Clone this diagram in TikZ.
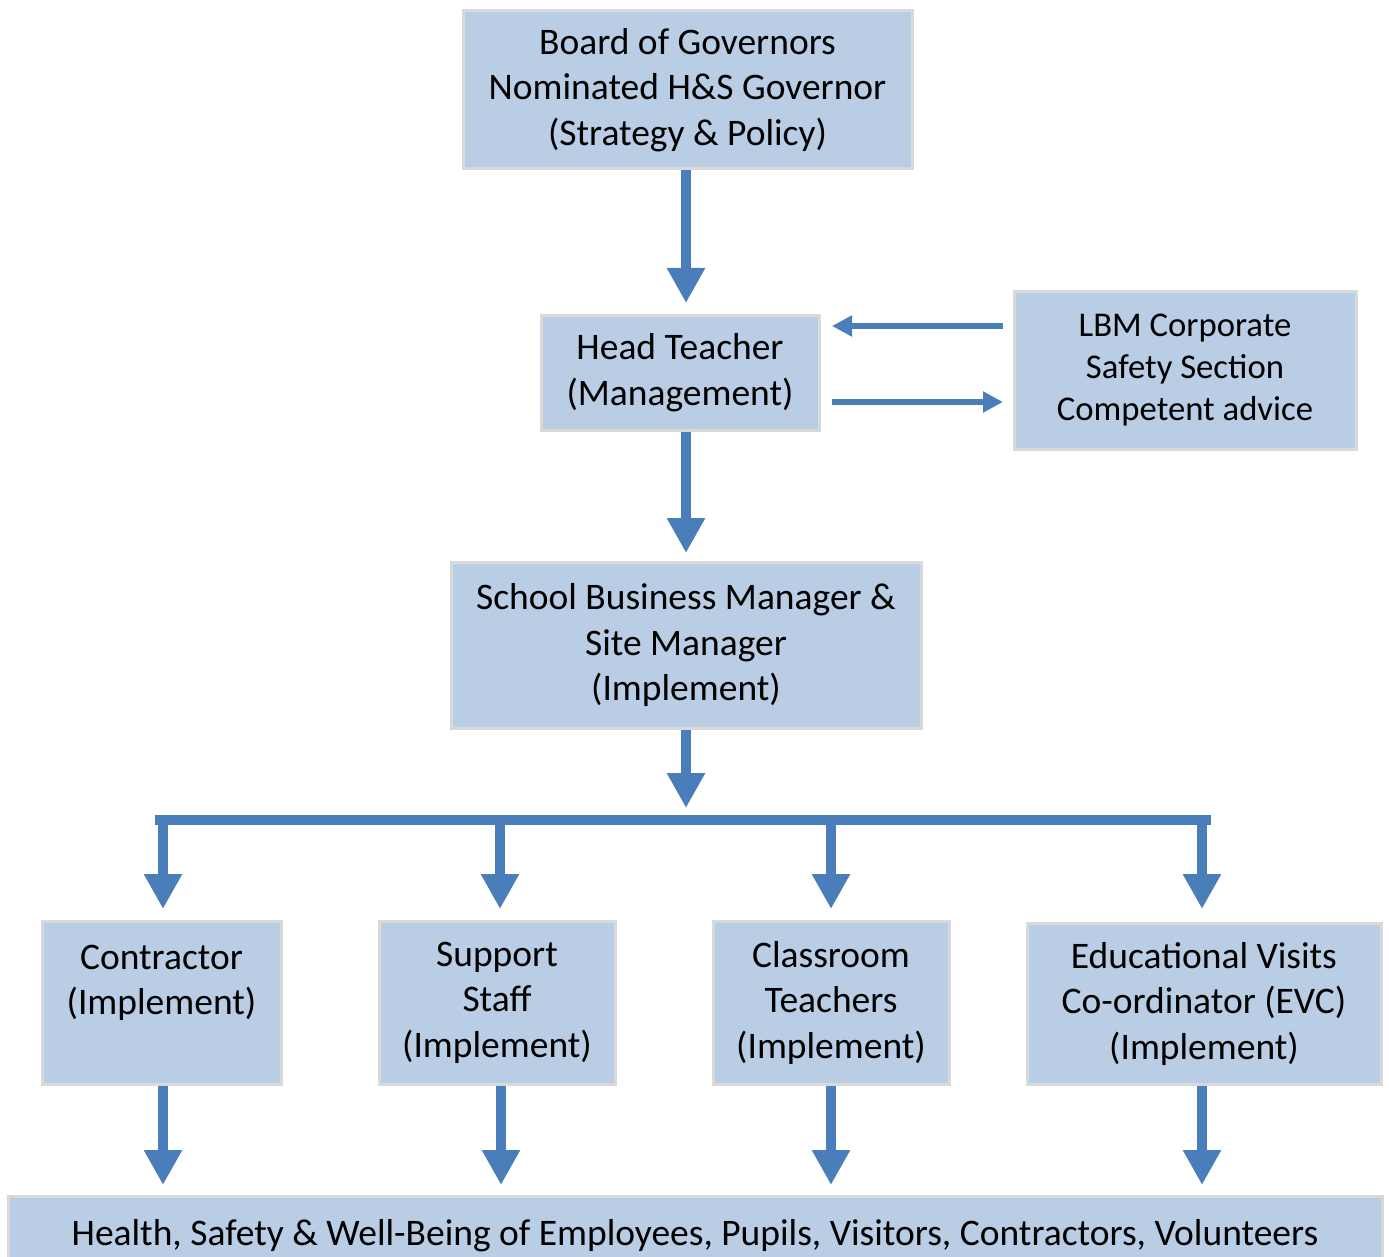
\documentclass[tikz,border=0pt]{standalone}
\usepackage{fontspec}
\setmainfont{Carlito}
\usetikzlibrary{arrows.meta}
\definecolor{boxfill}{RGB}{185,205,229}
\definecolor{boxline}{RGB}{217,217,217}
\definecolor{arrowblue}{RGB}{74,126,187}
\tikzset{
  orgbox/.style={draw=boxline, line width=3pt, fill=boxfill, align=center, inner sep=0pt,
    font=\fontsize{37.5}{45.5}\selectfont},
  bigarrow/.style={draw=arrowblue, line width=10pt, -{Triangle[length=35pt,width=36pt]}},
  sidearrow/.style={draw=arrowblue, line width=6pt, -{Triangle[length=20pt,width=20pt]}},
  busline/.style={draw=arrowblue, line width=10pt, line cap=rect}
}
\begin{document}
\begin{tikzpicture}[x=1pt,y=-1pt]
\useasboundingbox (0,0) rectangle (1389,1257);
\node[orgbox, minimum width=449pt, minimum height=158pt] (board) at (687.5,90)
  {Board of Governors\\Nominated H\&S Governor\\(Strategy \& Policy)};
\node[orgbox, minimum width=278pt, minimum height=115pt] (head) at (680,372.5)
  {Head Teacher\\(Management)};
\node[orgbox, minimum width=342pt, minimum height=157pt, font=\fontsize{34.7}{42}\selectfont] (lbm) at (1185,370.5)
  {LBM Corporate\\Safety Section\\Competent advice};
\node[orgbox, minimum width=470pt, minimum height=166pt] (sbm) at (686,645)
  {School Business Manager \&\\Site Manager\\(Implement)};
\node[orgbox, minimum width=239pt, minimum height=163pt] (con) at (161.5,1002.5)
  {Contractor\\(Implement)\\\mbox{}};
\node[orgbox, minimum width=236pt, minimum height=163pt] (sup) at (497,1002.5)
  {Support\\Staff\\(Implement)};
\node[orgbox, minimum width=236pt, minimum height=163pt] (cls) at (831,1002.5)
  {Classroom\\Teachers\\(Implement)};
\node[orgbox, minimum width=354pt, minimum height=161pt] (evc) at (1204,1003.5)
  {Educational Visits\\Co-ordinator (EVC)\\(Implement)};
\node[orgbox, minimum width=1374pt, minimum height=80pt] (hs) at (695,1236)
  {Health, Safety \& Well-Being of Employees, Pupils, Visitors, Contractors, Volunteers};
% main vertical arrows
\coordinate (a1) at (686,303);
\coordinate (a2) at (686,553);
\coordinate (a3) at (686,808);
\draw[bigarrow] (board.south -| a1) -- (a1);
\draw[bigarrow] (head.south -| a2) -- (a2);
\draw[bigarrow] (sbm.south -| a3) -- (a3);
% side arrows
\coordinate (l1) at (1003,326);
\coordinate (r1) at (832,326);
\coordinate (l2) at (832,402);
\coordinate (r2) at (1003,402);
\draw[sidearrow] (l1) -- (r1);
\draw[sidearrow] (l2) -- (r2);
% bus
\coordinate (busL) at (160,820);
\coordinate (busR) at (1206,820);
\draw[busline] (busL) -- (busR);
\coordinate (d1) at (163,909);
\coordinate (d2) at (500,909);
\coordinate (d3) at (831,909);
\coordinate (d4) at (1202,909);
\foreach \d in {d1,d2,d3,d4} \draw[bigarrow] (busL -| \d) -- (\d);
% bottom arrows
\coordinate (e1) at (163,1185);
\coordinate (e2) at (501,1185);
\coordinate (e3) at (831,1185);
\coordinate (e4) at (1202,1185);
\draw[bigarrow] (con.south -| e1) -- (e1);
\draw[bigarrow] (sup.south -| e2) -- (e2);
\draw[bigarrow] (cls.south -| e3) -- (e3);
\draw[bigarrow] (evc.south -| e4) -- (e4);
\end{tikzpicture}
\end{document}
